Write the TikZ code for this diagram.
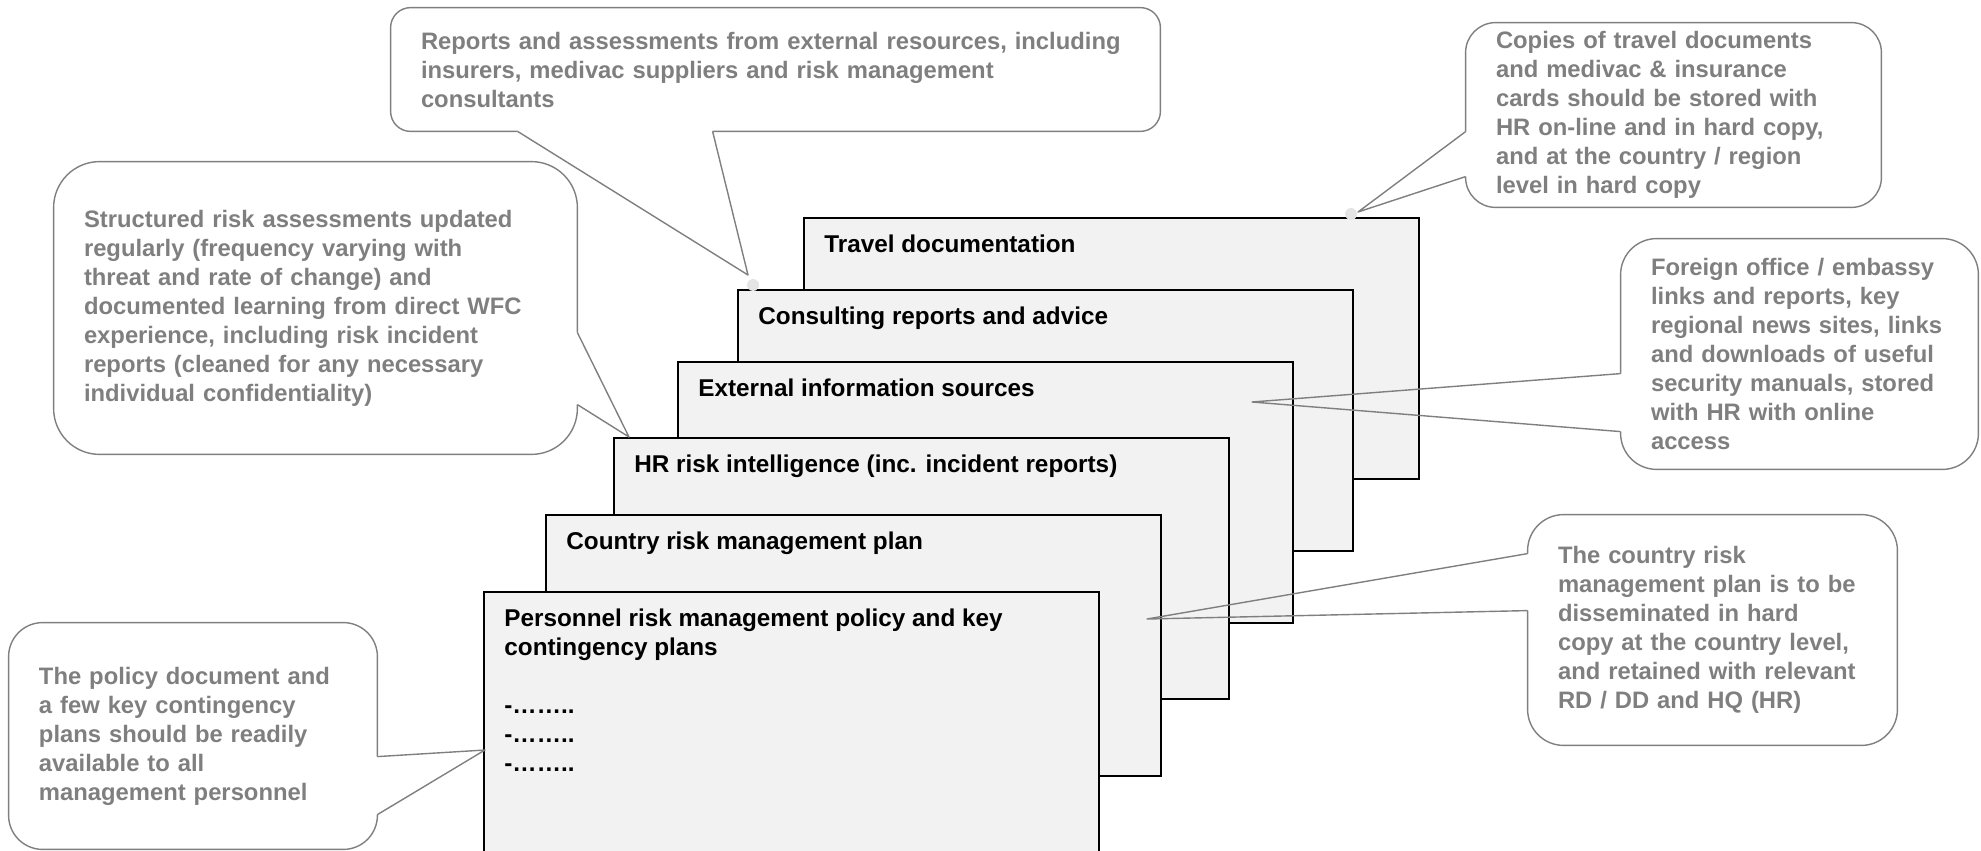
\documentclass[tikz,border=0pt]{standalone}
\usepackage{fontspec}
\setmainfont{Liberation Sans}
\usetikzlibrary{positioning, calc}
\definecolor{notegray}{HTML}{7F7F7F}
\definecolor{sheetgray}{HTML}{F2F2F2}
\definecolor{pingray}{HTML}{E4E4E4}

\begin{document}
\begin{tikzpicture}[
                x=0.5pt, y=-0.5pt,
                font=\fontsize{12.15pt}{14.5pt}\selectfont\bfseries,
                sheet/.style={draw, line width=1pt, fill=sheetgray, anchor=north west, inner sep=0pt, outer sep=0pt, minimum width=307.5pt, minimum height=130.5pt},
                sheettitle/.style={align=left, inner sep=0pt},
                notebox/.style={align=left, text=notegray, font=\fontsize{11.9pt}{14.5pt}\selectfont\bfseries, inner xsep=15pt, inner ysep=0pt},
                noteline/.style={draw=notegray, line width=0.7pt, line join=round}]

    \useasboundingbox (0,0) rectangle (1981,851);

    %%% SHEETS
    \node [sheet] (travel) at (804,218) {};
    \node [sheettitle, below right=8.4pt and 10pt of travel.north west] (traveltitle) {Travel documentation};
    \node [sheet] (consulting) at (738,290) {};
    \node [sheettitle, below right=8.4pt and 10pt of consulting.north west] (consultingtitle) {Consulting reports and advice};
    \node [sheet] (external) at (678,362) {};
    \node [sheettitle, below right=8.4pt and 10pt of external.north west] (externaltitle) {External information sources};
    \node [sheet] (hr) at (614,438) {};
    \node [sheettitle, below right=8.4pt and 10pt of hr.north west] (hrtitle) {HR risk intelligence (inc. incident reports)};
    \node [sheet] (country) at (546,515) {};
    \node [sheettitle, below right=8.4pt and 10pt of country.north west] (countrytitle) {Country risk management plan};
    \node [sheet] (personnel) at (484,592) {};
    \node [sheettitle, below right=8.4pt and 10pt of personnel.north west] (personneltitle) {Personnel risk management policy and key\\contingency plans\\[14.5pt]-……..\\-……..\\-……..};

    \fill [pingray] ($(consulting.north west)+(15,-5)$) circle (3pt);
    \fill [pingray] ($(travel.north west)+(547,-4)$) circle (3pt);

    %%% NOTES
    \node [notebox, minimum width=384.5pt, minimum height=61.5pt, text width=354.5pt] (reportsnote) at (775.5,69.5) {Reports and assessments from external resources, including\\insurers, medivac suppliers and risk management\\consultants};
    \node [notebox, minimum width=207.5pt, minimum height=92pt, text width=177.5pt] (copiesnote) at (1673.5,115) {Copies of travel documents\\and medivac \& insurance\\cards should be stored with\\HR on-line and in hard copy,\\and at the country / region\\level in hard copy};
    \node [notebox, minimum width=261.5pt, minimum height=146pt, text width=231.5pt] (structnote) at (315.5,308) {Structured risk assessments updated\\regularly (frequency varying with\\threat and rate of change) and\\documented learning from direct WFC\\experience, including risk incident\\reports (cleaned for any necessary\\individual confidentiality)};
    \node [notebox, minimum width=178.5pt, minimum height=115pt, text width=148.5pt] (foreignnote) at (1799.5,354) {Foreign office / embassy\\links and reports, key\\regional news sites, links\\and downloads of useful\\security manuals, stored\\with HR with online\\access};
    \node [notebox, minimum width=184.5pt, minimum height=115pt, text width=154.5pt] (countrynote) at (1712.5,630) {The country risk\\management plan is to be\\disseminated in hard\\copy at the country level,\\and retained with relevant\\RD / DD and HQ (HR)};
    \node [notebox, minimum width=184pt, minimum height=113pt, text width=154pt] (policynote) at (193,736) {The policy document and\\a few key contingency\\plans should be readily\\available to all\\management personnel};

    %%% POINTERS
    \coordinate (reportstip) at ($(consulting.north west)+(10,-15)$);
    \coordinate (reportsbase1) at ($(reportsnote.south west)+(127,0)$);
    \coordinate (reportsbase2) at ($(reportsnote.south west)+(322,0)$);
    \coordinate (copiestip) at ($(travel.north west)+(554,-6)$);
    \coordinate (copiesbase1) at ($(copiesnote.north west)+(0,109)$);
    \coordinate (copiesbase2) at ($(copiesnote.north west)+(0,154)$);
    \coordinate (structtip) at ($(hr.north west)+(15,-1)$);
    \coordinate (structbase1) at ($(structnote.north east)+(0,171)$);
    \coordinate (structbase2) at ($(structnote.north east)+(0,243)$);
    \coordinate (foreigntip) at ($(external.north west)+(574,40)$);
    \coordinate (foreignbase1) at ($(foreignnote.north west)+(0,135)$);
    \coordinate (foreignbase2) at ($(foreignnote.north west)+(0,193)$);
    \coordinate (countrytip) at ($(country.north west)+(601,104)$);
    \coordinate (countrybase1) at ($(countrynote.north west)+(0,39)$);
    \coordinate (countrybase2) at ($(countrynote.north west)+(0,96)$);
    \coordinate (policytip) at ($(personnel.north west)+(1,158)$);
    \coordinate (policybase1) at ($(policynote.north east)+(0,134)$);
    \coordinate (policybase2) at ($(policynote.north east)+(0,192)$);

    %%% OUTLINES
    \draw [noteline, rounded corners=10pt] (reportsbase2) -- (reportsnote.south east) -- (reportsnote.north east) -- (reportsnote.north west) -- (reportsnote.south west) -- (reportsbase1);
    \draw [noteline] (reportsbase1) -- (reportstip) -- (reportsbase2);
    \draw [noteline, rounded corners=15pt] (copiesbase1) -- (copiesnote.north west) -- (copiesnote.north east) -- (copiesnote.south east) -- (copiesnote.south west) -- (copiesbase2);
    \draw [noteline] (copiesbase2) -- (copiestip) -- (copiesbase1);
    \draw [noteline, rounded corners=23pt] (structbase2) -- (structnote.south east) -- (structnote.south west) -- (structnote.north west) -- (structnote.north east) -- (structbase1);
    \draw [noteline] (structbase1) -- (structtip) -- (structbase2);
    \draw [noteline, rounded corners=18pt] (foreignbase1) -- (foreignnote.north west) -- (foreignnote.north east) -- (foreignnote.south east) -- (foreignnote.south west) -- (foreignbase2);
    \draw [noteline] (foreignbase2) -- (foreigntip) -- (foreignbase1);
    \draw [noteline, rounded corners=18pt] (countrybase1) -- (countrynote.north west) -- (countrynote.north east) -- (countrynote.south east) -- (countrynote.south west) -- (countrybase2);
    \draw [noteline] (countrybase2) -- (countrytip) -- (countrybase1);
    \draw [noteline, rounded corners=17pt] (policybase2) -- (policynote.south east) -- (policynote.south west) -- (policynote.north west) -- (policynote.north east) -- (policybase1);
    \draw [noteline] (policybase1) -- (policytip) -- (policybase2);

\end{tikzpicture}
\end{document}
